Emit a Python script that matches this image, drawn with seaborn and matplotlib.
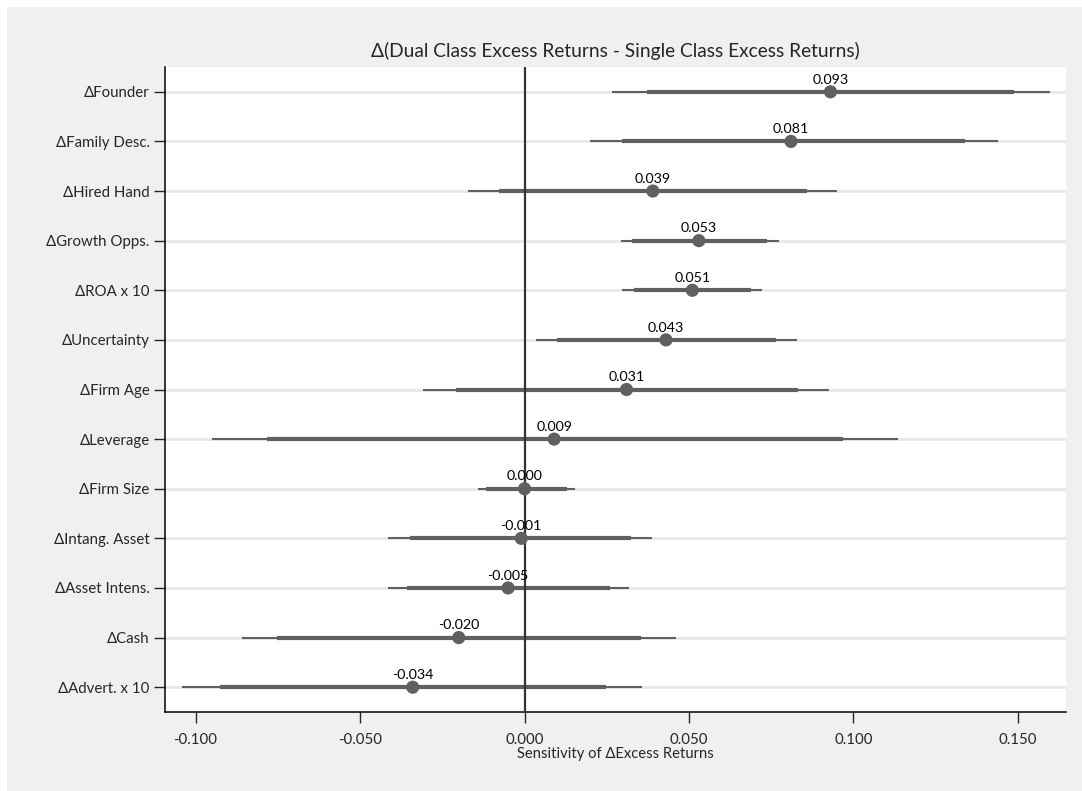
import matplotlib
matplotlib.use('Agg')
import matplotlib.pyplot as plt
from matplotlib.patches import Rectangle
import seaborn as sns
import pandas as pd

# 数据：系数估计值与两层置信区间
labels = ['ΔFounder', 'ΔFamily Desc.', 'ΔHired Hand', 'ΔGrowth Opps.', 'ΔROA x 10',
          'ΔUncertainty', 'ΔFirm Age', 'ΔLeverage', 'ΔFirm Size', 'ΔIntang. Asset',
          'ΔAsset Intens.', 'ΔCash', 'ΔAdvert. x 10']
estimate = [0.093, 0.081, 0.039, 0.053, 0.051, 0.043, 0.031, 0.009, 0.000, -0.001, -0.005, -0.020, -0.034]
ci95_lo = [0.0265, 0.0199, -0.0171, 0.0292, 0.0295, 0.0034, -0.0308, -0.0951, -0.0141, -0.0414, -0.0416, -0.0859, -0.1040]
ci95_hi = [0.1596, 0.1438, 0.0949, 0.0775, 0.0721, 0.0828, 0.0927, 0.1136, 0.0153, 0.0387, 0.0319, 0.0461, 0.0358]
ci90_lo = [0.0373, 0.0297, -0.0077, 0.0328, 0.0332, 0.0098, -0.0209, -0.0783, -0.0117, -0.0349, -0.0357, -0.0753, -0.0927]
ci90_hi = [0.1487, 0.1338, 0.0860, 0.0737, 0.0688, 0.0765, 0.0830, 0.0968, 0.0129, 0.0324, 0.0261, 0.0355, 0.0247]
xticks = [-0.100, -0.050, 0.000, 0.050, 0.100, 0.150]

df = pd.DataFrame({'label': labels, 'est': estimate,
                   'lo95': ci95_lo, 'hi95': ci95_hi, 'lo90': ci90_lo, 'hi90': ci90_hi})

sns.set_style('white')
plt.rcParams['font.family'] = ['Lato', 'DejaVu Sans']

col = '#606060'
fig = plt.figure(figsize=(10.82, 7.91), dpi=100)
fig.patches.append(Rectangle((7 / 1082, 0), 1 - 7 / 1082, 1 - 7 / 791,
                             transform=fig.transFigure, facecolor='#f0f0f0',
                             edgecolor='none', zorder=-10))
ax = fig.add_axes([165 / 1082, 1 - 712 / 791, (1066 - 165) / 1082, (712 - 67) / 791])
ax.set_facecolor('white')

# 横向网格线
ax.grid(axis='y', color='#e8e8e8', linewidth=2)
ax.grid(axis='x', visible=False)
ax.set_axisbelow(True)

# 置信区间
ax.hlines(df['label'], df['lo95'], df['hi95'], color=col, linewidth=1.5, zorder=2)
ax.hlines(df['label'], df['lo90'], df['hi90'], color=col, linewidth=3.0, zorder=3)
ax.axvline(0, color='#333333', linewidth=1.6, zorder=4)

sns.scatterplot(data=df, x='est', y='label', ax=ax, color=col, s=90,
                edgecolor='none', zorder=5)

for lab, v in zip(labels, estimate):
    ax.annotate(f'{v:.3f}', (v, lab), xytext=(0, 4.5), textcoords='offset points',
                ha='center', va='bottom', fontsize=10.3, color='black', zorder=6)

ax.set_xlim(-0.1093, 0.1646)
ax.set_ylim(len(labels) - 0.5, -0.5)
ax.set_xticks(xticks)
ax.set_xticklabels([f'{t:.3f}' for t in xticks])
ax.tick_params(axis='x', length=8, width=1, pad=7, labelsize=10.8, direction='out', bottom=True)
ax.tick_params(axis='y', length=8, width=1, pad=3, labelsize=10.8, direction='out', left=True)

for s in ['top', 'right']:
    ax.spines[s].set_visible(False)
for s in ['left', 'bottom']:
    ax.spines[s].set_color('black')
    ax.spines[s].set_linewidth(1.1)

ax.set_xlabel('Sensitivity of ΔExcess Returns', fontsize=10.6, labelpad=0)
ax.set_ylabel('')
ax.set_title('Δ(Dual Class Excess Returns - Single Class Excess Returns)', fontsize=13.8, pad=7)

fig.savefig('out.png', dpi=100)
